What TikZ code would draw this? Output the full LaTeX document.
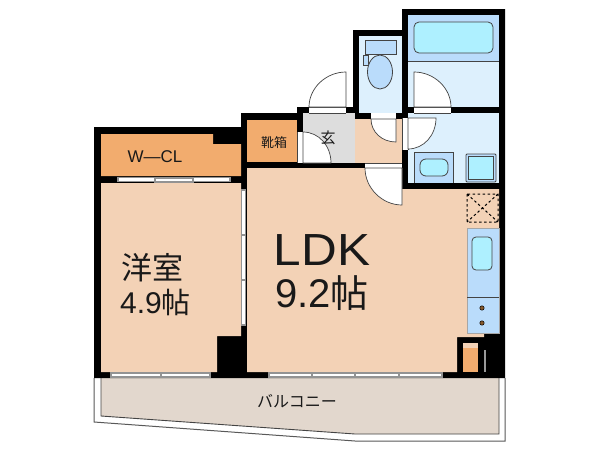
\documentclass[tikz,border=0pt]{standalone}
\usepackage{fontspec}
\setmainfont{Liberation Sans}
\newfontfamily\cjk{Noto Sans CJK JP}
\definecolor{floorc}{HTML}{F3D2B6}
\definecolor{clos}{HTML}{F2AC6E}
\definecolor{wetc}{HTML}{DDF0FD}
\definecolor{bluec}{HTML}{BADCFB}
\definecolor{aqua}{HTML}{AEF0FF}
\definecolor{grayc}{HTML}{DDDDDD}
\definecolor{balc}{HTML}{E2D7CD}
\definecolor{linec}{HTML}{444444}
\tikzset{
 wall/.style={fill=black,draw=none},
 leaf/.style={draw=linec,line width=0.7pt,fill=white},
 fix/.style={draw=linec,line width=0.8pt},
 win/.style={fill=white,draw=gray!85,line width=1.2pt},
 lab/.style={inner sep=0pt,text=black!90,align=center},
}
\begin{document}
\begin{tikzpicture}[x=1pt,y=-1pt]
\useasboundingbox (0,0) rectangle (600,450);
\fill[white] (0,0) rectangle (600,450);
% balcony
\draw[draw=gray!70!black,line width=1pt,fill=white] (94,378) -- (94,422) -- (355,441) -- (505,441) -- (505,378);
\draw[draw=linec,line width=0.9pt,fill=balc] (101,378) -- (101,416) -- (355,434) -- (499,434) -- (499,378);
% walls silhouette
\fill[wall] (94,127) -- (241,127) -- (241,113) -- (297,113) -- (297,107) -- (353,107) -- (353,30) -- (402,30) -- (402,9) -- (505,9) -- (505,378) -- (94,378) -- cycle;
% rooms
\fill[clos] (101,134) -- (213,134) -- (213,144) -- (241,144) -- (241,176) -- (101,176) -- cycle;
\fill[floorc] (101,183) -- (241,183) -- (241,336) -- (217,336) -- (217,372) -- (101,372) -- cycle;
\fill[clos] (247,120) rectangle (297,162);
\fill[grayc] (303,113) rectangle (355,163);
\fill[floorc] (355,119) rectangle (402,163);
\fill[floorc] (247,168) -- (402,168) -- (402,189) -- (499,189) -- (499,333) -- (484,333) -- (484,337) -- (457,337) -- (457,372) -- (247,372) -- cycle;
\fill[wetc] (359,36) rectangle (402,113);
\fill[wetc] (408,15) rectangle (499,107);
\fill[wetc] (408,113) rectangle (499,183);
\fill[bluec] (408,15) rectangle (499,61);
\draw[linec,line width=0.8pt] (408,61) -- (499,61);
% tub
\draw[fix,fill=aqua,rounded corners=5pt] (414,22) rectangle (493,53);
% toilet
\draw[fix,fill=bluec] (363,55) rectangle (368,65);
\draw[fix,fill=bluec] (380,72) ellipse [x radius=12.5,y radius=17];
\draw[fix,fill=bluec] (365,40) rectangle (396,54);
% wash basin and pan
\fill[bluec] (414,152) rectangle (453,183);
\draw[fix] (414,183) -- (414,152) -- (453,152) -- (453,183);
\draw[fix,fill=aqua,rounded corners=6pt] (420,159) rectangle (448,176);
\draw[fix,fill=bluec,rounded corners=1pt] (466,154) rectangle (496,182);
\draw[fix,fill=aqua] (468.5,156.5) rectangle (493.5,179.5);
% kitchen
\draw[draw=gray!70,line width=0.6pt,fill=bluec] (467,228) rectangle (499,333);
\draw[linec,line width=0.6pt] (467,297) -- (499,297);
\draw[fix,fill=aqua,rounded corners=4pt] (472,237) rectangle (492,270);
\fill[brown!70!black,draw=black,line width=0.5pt] (482,308) circle (2.2);
\fill[brown!70!black,draw=black,line width=0.5pt] (482,323) circle (2.2);
\draw[black,line width=1pt,dash pattern=on 2.5pt off 2.5pt] (467,194) rectangle (498,222) (467,194) -- (498,222) (498,194) -- (467,222);
% lower right
\fill[floorc] (463,343) rectangle (478,348);
\fill[clos] (463,348) rectangle (478,372);
\fill[gray!80] (484.3,350) rectangle (486,372);
% door openings
\fill[white] (414,107) rectangle (451,113);
\draw[linec,line width=0.5pt] (414,107) -- (451,107) (414,113) -- (451,113);
\fill[white] (309,107) rectangle (346,113);
\draw[linec,line width=0.5pt] (309,107) -- (346,107) (309,113) -- (346,113);
\fill[white] (371,113) rectangle (396,119);
\draw[linec,line width=0.5pt] (371,119) -- (396,119);
\fill[white] (402,118) rectangle (408,150);
\draw[linec,line width=0.5pt] (402,118) -- (402,150) (408,118) -- (408,150);
\fill[white] (297,132) rectangle (303,163);
\draw[linec,line width=0.5pt] (297,132) -- (297,163) (303,132) -- (303,163);
\fill[white] (365,163) rectangle (402,168);
\draw[linec,line width=0.5pt] (365,163) -- (402,163) (365,168) -- (402,168);
% door leaves (y axis points down, so the arcs are written as curves)
\draw[leaf] (414,107) -- (414,72) .. controls (434,72) and (451,88) .. (451,107) -- cycle;
\draw[leaf] (346,107) -- (346,72) .. controls (326,72) and (309,88) .. (309,107) -- cycle;
\draw[leaf] (396,119) -- (396,142) .. controls (382,142) and (371,132) .. (371,119) -- cycle;
\draw[leaf] (408,118) -- (436,118) .. controls (436,135) and (424,149) .. (408,149) -- cycle;
\draw[leaf] (303,163) -- (303,132) .. controls (319,132) and (331,146) .. (331,163) -- cycle;
\draw[leaf] (402,168) -- (402,205) .. controls (382,205) and (365,188) .. (365,168) -- cycle;
% sliding doors and windows
\draw[win] (118,177.5) rectangle (155,181.5);
\draw[win] (155,178) rectangle (193,182);
\draw[win] (193,177.5) rectangle (230,181.5);
\draw[win] (241.5,190) rectangle (245.5,235);
\draw[win] (241.5,235) rectangle (245.5,280);
\draw[win] (241.5,280) rectangle (245.5,325);
\draw[win] (111,373) rectangle (161,377);
\draw[win] (161,373) rectangle (210,377);
\draw[win] (269,373) rectangle (312,377);
\draw[win] (312,373) rectangle (355,377);
\draw[win] (355,373) rectangle (399,377);
\draw[win] (399,373) rectangle (442,377);
% labels
\node[lab,font=\fontsize{17}{17}\selectfont] (wcl) at (155,156.5) {W—CL};
\node[lab,font=\cjk\fontsize{13}{13}\selectfont] (shoe) at (274,143) {靴箱};
\node[lab,font=\cjk\fontsize{15}{15}\selectfont] (gen) at (328,138) {玄};
\node[lab,font=\cjk\fontsize{31}{31}\selectfont] (yo) at (152,268) {洋室};
\node[lab,font=\fontsize{30}{30}\selectfont] (yon) at (155.5,302) {4.9{\cjk\fontsize{29}{29}\selectfont 帖}};
\node[lab,font=\fontsize{45}{45}\selectfont] (ldk) at (322,250) {\scalebox{1.1}[1]{LDK}};
\node[lab,font=\fontsize{40}{40}\selectfont] (ldkn) at (322,293.5) {9.2{\cjk\fontsize{38}{38}\selectfont 帖}};
\node[lab,font=\cjk\fontsize{16}{16}\selectfont] (bal) at (297,401) {バルコニー};
\end{tikzpicture}
\end{document}
